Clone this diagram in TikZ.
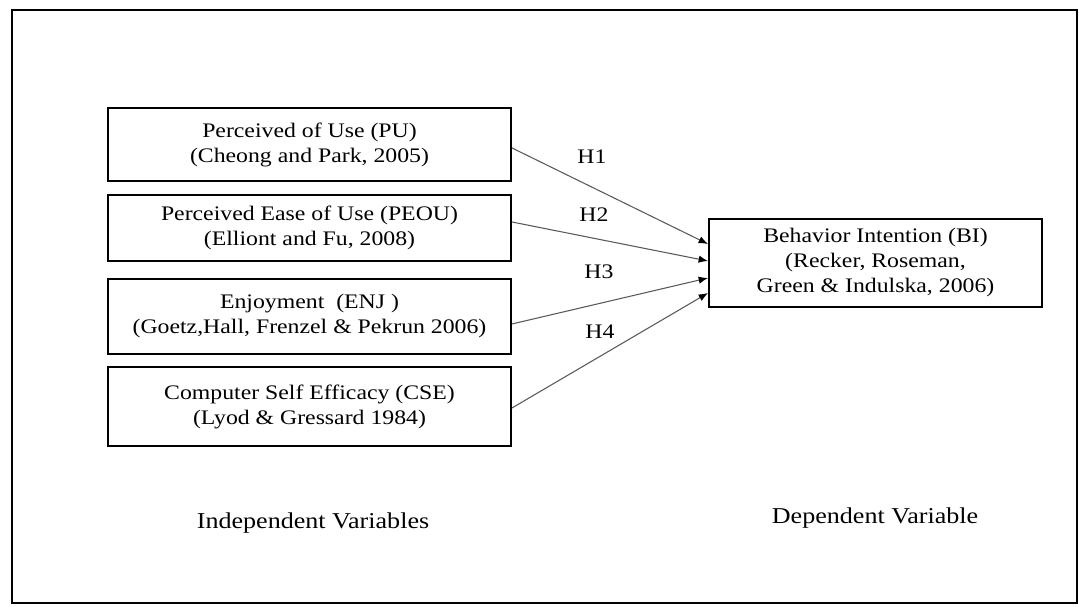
\documentclass[tikz,border=0pt]{standalone}
\usepackage{fontspec}
\setmainfont{Liberation Serif}[FakeStretch=1.15]
\usetikzlibrary{arrows.meta}
\begin{document}
\begin{tikzpicture}[x=0.75pt,y=-0.75pt,
  varbox/.style={draw, line width=1.5pt, inner sep=0pt, align=center,
    font=\fontsize{15.5pt}{18.75pt}\selectfont, minimum width=302.25pt},
  hyp/.style={draw=black!65, line width=0.8pt, -{Latex[black,length=7pt,width=5.5pt]}},
  hlabel/.style={font=\fontsize{15.5pt}{18.75pt}\selectfont, inner sep=0pt},
  caption/.style={font=\fontsize{17pt}{20pt}\selectfont, inner sep=0pt}]
\useasboundingbox (0,0) rectangle (1079,607);
\draw[line width=1.5pt] (12,10) rectangle (1077,603);

\node[varbox, minimum height=54.75pt] (pu) at (309.5,144.5)
  {Perceived of Use (PU)\\(Cheong and Park, 2005)};
\node[varbox, minimum height=49.5pt] (peou) at (309.5,228)
  {Perceived Ease of Use (PEOU)\\(Elliont and Fu, 2008)};
\node[varbox, minimum height=56.25pt] (enj) at (309.5,316.5)
  {Enjoyment\ \ (ENJ\ )\\(Goetz,Hall, Frenzel \& Pekrun 2006)};
\node[varbox, minimum height=59.25pt] (cse) at (309.5,406.5)
  {Computer Self Efficacy (CSE)\\(Lyod \& Gressard 1984)};
\node[varbox, minimum width=249.75pt, minimum height=66pt] (bi) at (875.5,263)
  {Behavior Intention (BI)\\(Recker, Roseman,\\Green \& Indulska, 2006)};

\draw[hyp] ([yshift=-2.6pt]pu.east) -- ([yshift=14.25pt]bi.west);
\draw[hyp] ([yshift=4.5pt]peou.east) -- ([yshift=1.5pt]bi.west);
\draw[hyp] ([yshift=-5.6pt]enj.east) -- ([yshift=-11.25pt]bi.west);
\draw[hyp] ([yshift=-1.1pt]cse.east) -- ([yshift=-22.5pt]bi.west);

\node[hlabel] (h1) at (592,157) {H1};
\node[hlabel] (h2) at (594,215) {H2};
\node[hlabel] (h3) at (599,272) {H3};
\node[hlabel] (h4) at (600,332) {H4};

\node[caption] (iv) at (313,523) {Independent Variables};
\node[caption] (dv) at (875,518) {Dependent Variable};
\end{tikzpicture}
\end{document}
